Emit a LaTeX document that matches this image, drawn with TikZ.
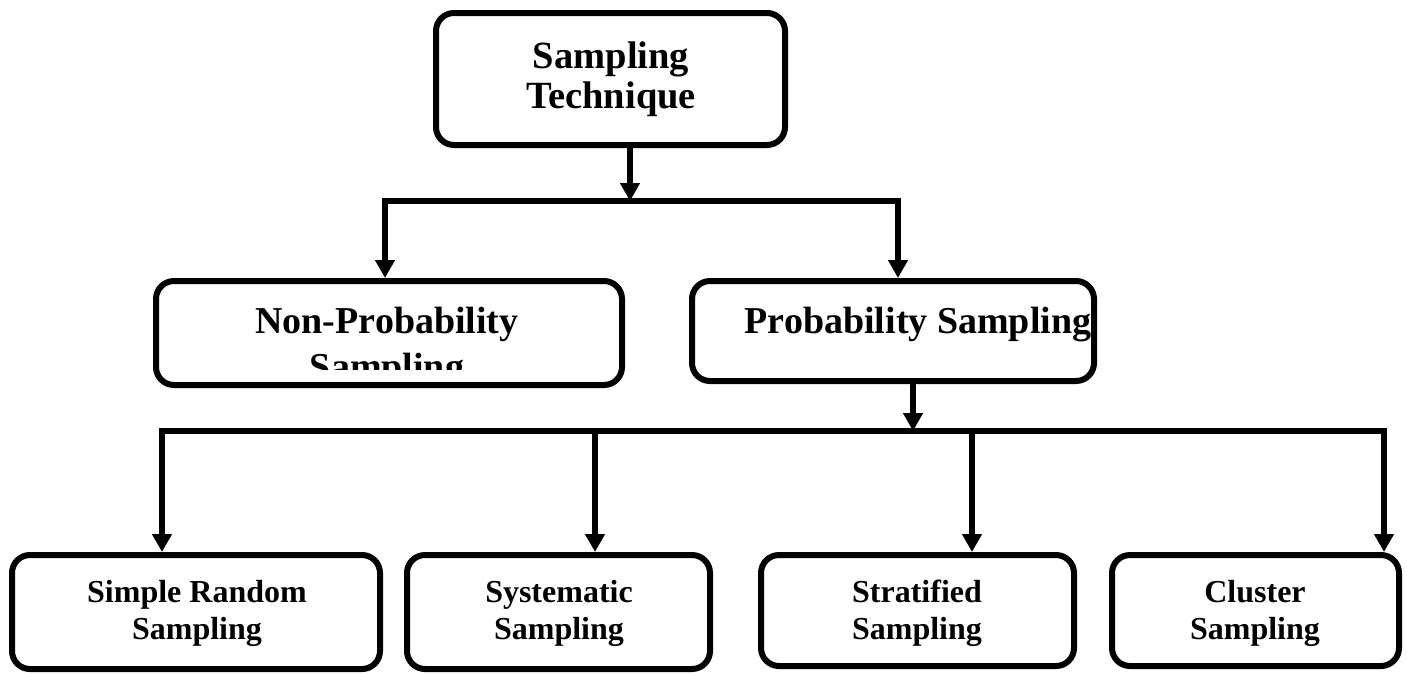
\documentclass[tikz,border=0pt]{standalone}
\usepackage{fontspec}
\setmainfont{Liberation Serif}
\usetikzlibrary{arrows.meta}
\begin{document}
\begin{tikzpicture}[x=1pt,y=-1pt,
  box/.style={draw,line width=6pt,rounded corners=18pt,inner sep=0pt,anchor=north west},
  conn/.style={line width=5.5pt},
  arr/.style={conn,-{Triangle[width=19pt,length=18pt]}},
  bigtxt/.style={font=\fontsize{38.5}{40}\bfseries\selectfont,inner sep=0pt,anchor=base},
  midtxt/.style={font=\fontsize{38}{40}\bfseries\selectfont,inner sep=0pt,anchor=base},
  smalltxt/.style={font=\fontsize{32}{33}\bfseries\selectfont,inner sep=0pt,anchor=base}]
\useasboundingbox (0,0) rectangle (1407,673);
% boxes
\node[box,minimum width=349pt,minimum height=132pt] (top) at (433,10) {};
\node[box,minimum width=466pt,minimum height=104pt] (nonprob) at (153,278) {};
\node[box,minimum width=402pt,minimum height=100pt] (prob) at (689,278) {};
\node[box,minimum width=368pt,minimum height=114pt] (simple) at (9,552) {};
\node[box,minimum width=303pt,minimum height=114pt] (syst) at (404,552) {};
\node[box,minimum width=313pt,minimum height=111pt] (strat) at (758,552) {};
\node[box,minimum width=287pt,minimum height=111pt] (clust) at (1109,552) {};
% texts
\node[bigtxt] (tA) at (611,68) {Sampling};
\node[bigtxt] (tB) at (611,108) {Technique};
\node[midtxt] (nA) at (387,333) {Non-Probability};
\begin{scope}
\clip (150,280) rectangle (630,369);
\node[midtxt] (nB) at (387,379) {Sampling};
\end{scope}
\node[midtxt] (pA) at (918,333) {Probability Sampling};
\node[smalltxt] (sA) at (197,602) {Simple Random};
\node[smalltxt] (sB) at (197,639) {Sampling};
\node[smalltxt] (yA) at (559,602) {Systematic};
\node[smalltxt] (yB) at (559,639) {Sampling};
\node[smalltxt] (rA) at (917,602) {Stratified};
\node[smalltxt] (rB) at (917,639) {Sampling};
\node[smalltxt] (cA) at (1255,602) {Cluster};
\node[smalltxt] (cB) at (1255,639) {Sampling};
% junction points
\coordinate (ja) at (630,201);
\coordinate (jl) at (385,201);
\coordinate (jr) at (898,201);
\coordinate (jb) at (913,431);
\coordinate (k1) at (162,431);
\coordinate (k2) at (595,431);
\coordinate (k3) at (972,431);
\coordinate (k4) at (1384,431);
% connectors
\draw[arr] (ja |- top.south) -- (ja);
\draw[conn,line cap=rect] (jl) -- (jr);
\draw[arr] (jl) -- (jl |- nonprob.north);
\draw[arr] (jr) -- (jr |- prob.north);
\draw[arr] (jb |- prob.south) -- (jb);
\draw[conn,line cap=rect] (k1) -- (k4);
\draw[arr] (k1) -- (k1 |- simple.north);
\draw[arr] (k2) -- (k2 |- syst.north);
\draw[arr] (k3) -- (k3 |- strat.north);
\draw[arr] (k4) -- (k4 |- clust.north);
\end{tikzpicture}
\end{document}
